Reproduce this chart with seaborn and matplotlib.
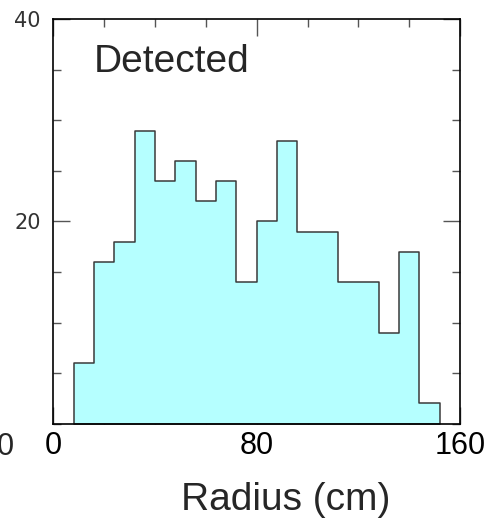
import numpy as np
import pandas as pd
import matplotlib
matplotlib.use("Agg")
import matplotlib.pyplot as plt
from matplotlib.ticker import MultipleLocator, FixedLocator
import seaborn as sns

# Histogram of detected events per 8 cm radius bin
bin_edges = [8, 16, 24, 32, 40, 48, 56, 64, 72, 80, 88, 96, 104, 112, 120, 128, 136, 144, 152]
counts = [6, 16, 18, 29, 24, 26, 22, 24, 14, 20, 28, 19, 19, 14, 14, 9, 17, 2]
x_tick_labels = ["0", "80", "160"]
y_tick_labels = ["20", "40"]
panel_label = "Detected"
x_title = "Radius (cm)"

edges = np.array(bin_edges, dtype=float)
df = pd.DataFrame({"radius": (edges[:-1] + edges[1:]) / 2, "count": counts})

sns.set_style("ticks")
plt.rcParams["font.family"] = ["Liberation Sans", "DejaVu Sans"]

fig = plt.figure(figsize=(4.91, 5.27), dpi=100)
ax = fig.add_axes([0.1086, 0.196, 0.8283, 0.7674])

sns.histplot(data=df, x="radius", weights="count", bins=list(bin_edges),
             element="step", fill=True, color="#b5ffff", alpha=1,
             edgecolor="#3a3a3a", linewidth=1.1, ax=ax)

ax.set_xlim(0, 160)
ax.set_ylim(0, 40)
ax.set_ylabel("")

# ticks on all four sides, pointing inward
ax.xaxis.set_major_locator(FixedLocator([0, 80, 160]))
ax.set_xticklabels(x_tick_labels)
ax.xaxis.set_minor_locator(MultipleLocator(20))
ax.yaxis.set_major_locator(FixedLocator([20, 40]))
ax.set_yticklabels(y_tick_labels)
ax.yaxis.set_minor_locator(MultipleLocator(5))
ax.tick_params(which="both", direction="in", top=True, right=True,
               color="#555555", width=1.0)
ax.tick_params(which="major", length=12)
ax.tick_params(which="minor", length=6)
ax.tick_params(axis="x", which="major", labelsize=22, pad=5, labelcolor="black")
for lab in ax.get_yticklabels():
    lab.set_fontfamily("DejaVu Sans")
ax.tick_params(axis="y", which="major", labelsize=15, pad=9, labelcolor="#333333")

for sp in ax.spines.values():
    sp.set_visible(True)
    sp.set_color("black")
    sp.set_linewidth(1.2)

ax.set_xlabel(x_title, fontsize=28)
ax.xaxis.set_label_coords(0.572, -0.143)

ax.text(0.0995, 0.870, panel_label, transform=ax.transAxes,
        fontsize=28, ha="left", va="baseline")

# tail of the neighbouring panel's axis label at the left edge
fig.text(14 / 491, (527 - 455) / 527, "0", fontsize=22, ha="right", va="baseline")

fig.savefig("out.png", dpi=100)
